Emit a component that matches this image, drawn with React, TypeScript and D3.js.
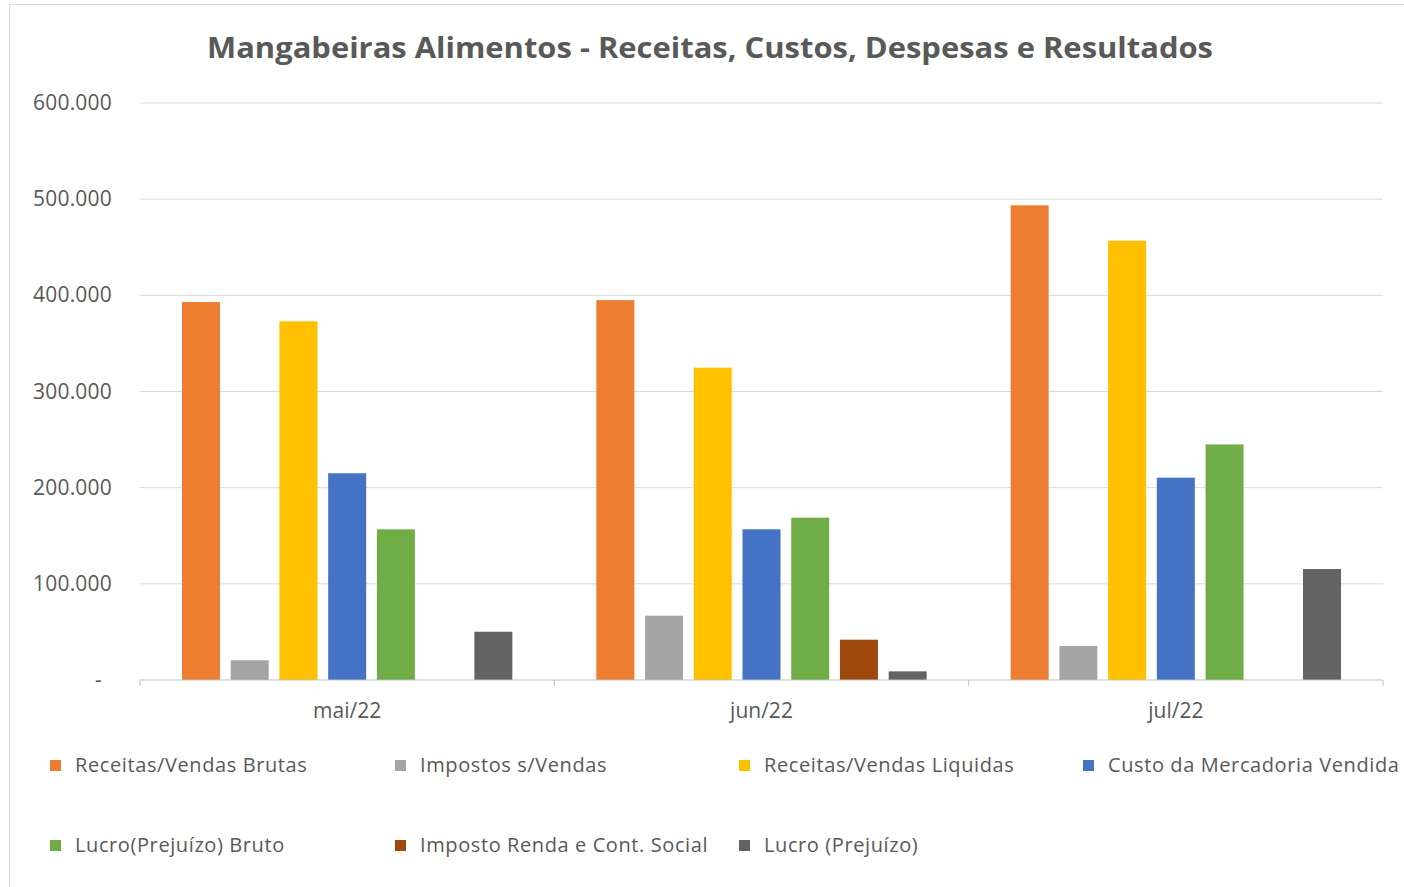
import React from "react";
import * as d3 from "d3";

const categories = ["mai/22", "jun/22", "jul/22"];
const seriesNames = [
  "Receitas/Vendas Brutas",
  "Impostos s/Vendas",
  "Receitas/Vendas Liquidas",
  "Custo da Mercadoria Vendida",
  "Lucro(Prejuízo) Bruto",
  "Imposto Renda e Cont. Social",
  "Lucro (Prejuízo)",
];
const seriesColors = ["#ED7D31", "#A5A5A5", "#FFC000", "#4472C4", "#70AD47", "#9E480E", "#636363"];
// values per series, per category (mai, jun, jul)
const receitasBrutas = [393000, 395000, 493600];
const impostosVendas = [20500, 66900, 35400];
const receitasLiquidas = [373000, 324800, 456800];
const custoMercadoria = [215000, 156700, 210400];
const lucroBruto = [156700, 168800, 245000];
const impostoRenda = [0, 41900, 0];
const lucroLiquido = [50200, 9000, 115400];
const seriesValues = [receitasBrutas, impostosVendas, receitasLiquidas, custoMercadoria, lucroBruto, impostoRenda, lucroLiquido];
const yTicks = [0, 100000, 200000, 300000, 400000, 500000, 600000];

const W = 1404;
const H = 887;
const plotLeft = 140;
const plotRight = 1383;
const plotTop = 103;
const plotBottom = 680;

export default function App() {
  const x0 = d3.scaleBand<string>().domain(categories).range([plotLeft, plotRight]).paddingInner(0).paddingOuter(0);
  const bw = x0.bandwidth();
  const x1 = d3
    .scaleBand<string>()
    .domain(seriesNames)
    .range([42, bw - 42])
    .paddingInner(0.22)
    .paddingOuter(0);
  const y = d3.scaleLinear().domain([0, 600000]).range([plotBottom, plotTop]);
  const fmt = (v: number) => (v === 0 ? "-" : d3.format(",")(v).replace(/,/g, "."));
  const font = "'Open Sans', sans-serif";
  const legendCols = [50, 395, 739, 1083];
  const legendRows = [765, 845];

  return (
    <svg width={W} height={H} style={{ position: "absolute", left: 0, top: 0, background: "#fff" }} fontFamily={font}>
      <rect x={0} y={0} width={W} height={H} fill="#fff" />
      <rect x={9.5} y={4.5} width={W + 10} height={H + 10} fill="none" stroke="#d9d9d9" />
      <text x={710} y={58} textAnchor="middle" fontSize={28} fontWeight="bold" fill="#595959" textLength={1006} lengthAdjust="spacingAndGlyphs">
        Mangabeiras  Alimentos - Receitas, Custos,  Despesas e Resultados
      </text>
      {yTicks.map((t) => (
        <g key={t}>
          {t !== 0 && (
            <line x1={plotLeft} x2={plotRight} y1={y(t)} y2={y(t)} stroke="#d9d9d9" strokeWidth={1} />
          )}
          <text x={t === 0 ? 102 : 112} y={y(t) + 7} textAnchor="end" fontSize={21} letterSpacing={0.2} fill="#595959">
            {fmt(t)}
          </text>
        </g>
      ))}
      {categories.map((c, ci) => (
        <g key={c}>
          {seriesNames.map((s, si) => {
            const v = seriesValues[si][ci];
            if (!v) return null;
            return (
              <rect
                key={s}
                x={(x0(c) as number) + (x1(s) as number)}
                y={y(v)}
                width={x1.bandwidth()}
                height={y(0) - y(v)}
                fill={seriesColors[si]}
              />
            );
          })}
          <text x={(x0(c) as number) + bw / 2} y={718} textAnchor="middle" fontSize={21} fill="#595959">
            {c}
          </text>
        </g>
      ))}
      <line x1={plotLeft} x2={plotRight} y1={plotBottom} y2={plotBottom} stroke="#bfbfbf" />
      {[...categories.map((c) => x0(c) as number), plotRight].map((xv, i) => (
        <line key={i} x1={xv} x2={xv} y1={plotBottom} y2={plotBottom + 6} stroke="#bfbfbf" />
      ))}
      {seriesNames.map((s, i) => {
        const col = i % 4;
        const row = Math.floor(i / 4);
        const lx = legendCols[col];
        const ly = legendRows[row];
        return (
          <g key={s}>
            <rect x={lx} y={ly - 5} width={11} height={11} fill={seriesColors[i]} />
            <text x={lx + 25} y={ly + 7} fontSize={20} letterSpacing={0.6} fill="#595959">
              {s}
            </text>
          </g>
        );
      })}
    </svg>
  );
}
